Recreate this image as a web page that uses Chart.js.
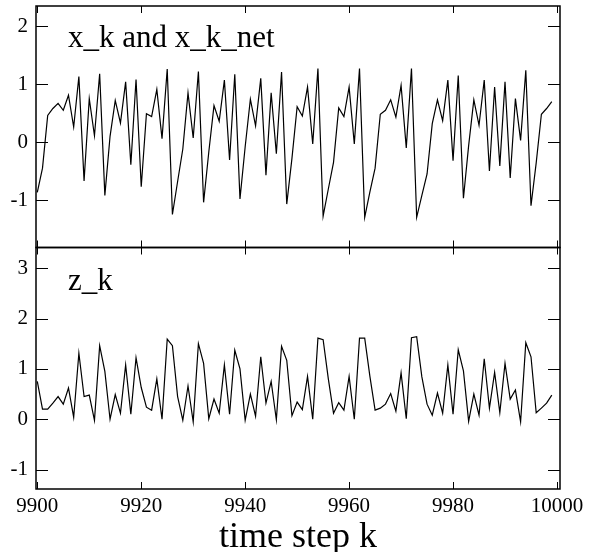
<!DOCTYPE html>
<html>
<head>
<meta charset="utf-8">
<script src="https://cdn.jsdelivr.net/npm/chart.js@4.4.1/dist/chart.umd.min.js"></script>
<style>
    html, body { margin: 0; padding: 0; background: #fff; }
    #wrap { width: 592px; height: 552px; }
</style>
</head>
<body>
<div id="wrap"><canvas id="chart" width="592" height="552"></canvas></div>
<script>
// time steps run from 9900 to 9999, one value per step
const firstStep = 9900;

const xk = [
    -0.87, -0.45, 0.46, 0.58, 0.67, 0.55, 0.81, 0.26, 1.13, -0.67,
    0.75, 0.11, 1.18, -0.92, 0.10, 0.72, 0.33, 1.04, -0.39, 1.08,
    -0.77, 0.49, 0.44, 0.91, 0.06, 1.26, -1.25, -0.68, -0.12, 0.85,
    0.07, 1.22, -1.04, -0.17, 0.63, 0.36, 1.07, -0.31, 1.17, -0.98,
    -0.08, 0.74, 0.28, 1.10, -0.57, 0.85, -0.20, 1.21, -1.07, -0.28,
    0.61, 0.45, 0.95, -0.03, 1.27, -1.28, -0.81, -0.35, 0.59, 0.44,
    0.95, -0.03, 1.27, -1.30, -0.86, -0.45, 0.48, 0.55, 0.73, 0.43,
    0.98, -0.10, 1.27, -1.30, -0.92, -0.55, 0.32, 0.73, 0.37, 1.07,
    -0.32, 1.15, -0.97, -0.06, 0.73, 0.29, 1.07, -0.50, 0.95, -0.41,
    1.04, -0.62, 0.75, 0.03, 1.24, -1.10, -0.36, 0.48, 0.58, 0.70
];

const zk = [
    0.75, 0.20, 0.20, 0.32, 0.45, 0.30, 0.62, 0.04, 1.31, 0.45,
    0.48, -0.02, 1.46, 0.95, 0.00, 0.49, 0.12, 1.08, 0.10, 1.22,
    0.63, 0.24, 0.18, 0.80, 0.00, 1.59, 1.46, 0.45, -0.02, 0.66,
    -0.05, 1.50, 1.11, 0.01, 0.40, 0.12, 1.08, 0.10, 1.37, 1.00,
    -0.02, 0.50, 0.06, 1.24, 0.32, 0.75, -0.01, 1.45, 1.17, 0.07,
    0.34, 0.19, 0.85, 0.00, 1.61, 1.58, 0.80, 0.12, 0.33, 0.18,
    0.85, 0.00, 1.61, 1.61, 0.85, 0.18, 0.22, 0.30, 0.51, 0.16,
    0.92, 0.01, 1.62, 1.64, 0.84, 0.30, 0.08, 0.52, 0.12, 1.08,
    0.10, 1.38, 0.96, -0.04, 0.50, 0.08, 1.20, 0.22, 0.93, 0.13,
    1.11, 0.40, 0.58, -0.05, 1.52, 1.24, 0.13, 0.22, 0.32, 0.48
];

const xTicks = [9900, 9920, 9940, 9960, 9980, 10000];
const xkTicks = [-1, 0, 1, 2];
const zkTicks = [-1, 0, 1, 2, 3];
const panelLabels = ['x_k and x_k_net', 'z_k'];

const serif = 'Liberation Serif';

function toPoints(values) {
    return values.map((v, i) => ({ x: firstStep + i, y: v }));
}

function fixedTicks(list) {
    return function(scale) {
        scale.ticks = list.map(v => ({ value: v }));
    };
}

// frames, inward tick marks and the panel captions
const panelPlugin = {
    id: 'panels',
    afterDatasetsDraw(chart) {
        const ctx = chart.ctx;
        const x = chart.scales.x;
        const panels = [
            { scale: chart.scales.yTop, label: panelLabels[0], at: [9905.9, 1.64] },
            { scale: chart.scales.yBot, label: panelLabels[1], at: [9905.9, 2.57] }
        ];

        ctx.save();
        ctx.strokeStyle = '#000';
        ctx.fillStyle = '#000';

        panels.forEach(p => {
            const y = p.scale;
            ctx.lineWidth = 1.5;
            ctx.strokeRect(x.left, y.top, x.right - x.left, y.bottom - y.top);

            ctx.lineWidth = 1;
            ctx.beginPath();
            y.ticks.forEach(t => {
                const py = Math.round(y.getPixelForValue(t.value)) + 0.5;
                ctx.moveTo(x.left, py);
                ctx.lineTo(x.left + 12, py);
                ctx.moveTo(x.right, py);
                ctx.lineTo(x.right - 12, py);
            });
            x.ticks.forEach(t => {
                const px = Math.round(x.getPixelForValue(t.value)) + 0.5;
                ctx.moveTo(px, y.top);
                ctx.lineTo(px, y.top + 7);
                ctx.moveTo(px, y.bottom);
                ctx.lineTo(px, y.bottom - 7);
            });
            ctx.stroke();

            ctx.font = '31px "' + serif + '"';
            ctx.textBaseline = 'alphabetic';
            ctx.textAlign = 'left';
            ctx.fillText(p.label, x.getPixelForValue(p.at[0]), y.getPixelForValue(p.at[1]));
        });
        ctx.restore();
    }
};

const tickFont = { family: serif, size: 21 };

const yAxis = (min, max, list) => ({
    type: 'linear',
    position: 'left',
    stack: 'panels',
    stackWeight: 1,
    min: min,
    max: max,
    afterBuildTicks: fixedTicks(list),
    afterFit: function(scale) {
        scale.width = 36;
        scale.paddingTop = 0;
        scale.paddingBottom = 0;
    },
    grid: { display: false, drawTicks: false },
    border: { display: false },
    ticks: {
        font: tickFont,
        color: '#000',
        padding: 8,
        callback: v => String(v)
    }
});

const lineStyle = {
    borderColor: '#000',
    borderWidth: 1.2,
    pointRadius: 0,
    fill: false,
    tension: 0
};

new Chart(document.getElementById('chart'), {
    type: 'line',
    data: {
        datasets: [
            Object.assign({ label: 'x_k', data: toPoints(xk), yAxisID: 'yTop' }, lineStyle),
            Object.assign({ label: 'z_k', data: toPoints(zk), yAxisID: 'yBot' }, lineStyle)
        ]
    },
    options: {
        responsive: false,
        devicePixelRatio: 1,
        animation: false,
        layout: { padding: { top: 6, right: 32, bottom: 0, left: 0 } },
        plugins: {
            legend: { display: false },
            tooltip: { enabled: false }
        },
        scales: {
            x: {
                type: 'linear',
                min: 9899.75,
                max: 10000.58,
                afterBuildTicks: fixedTicks(xTicks),
                afterFit: function(scale) {
                    scale.height = 63;
                },
                grid: { display: false, drawTicks: false },
                border: { display: false },
                ticks: {
                    font: tickFont,
                    color: '#000',
                    padding: 5,
                    maxRotation: 0,
                    autoSkip: false,
                    callback: v => String(v)
                },
                title: {
                    display: true,
                    text: 'time step k',
                    color: '#000',
                    font: { family: serif, size: 36, lineHeight: 0.8 },
                    padding: 0
                }
            },
            yBot: yAxis(-1.385, 3.41, zkTicks),
            yTop: yAxis(-1.82, 2.35, xkTicks)
        }
    },
    plugins: [panelPlugin]
});
</script>
</body>
</html>
